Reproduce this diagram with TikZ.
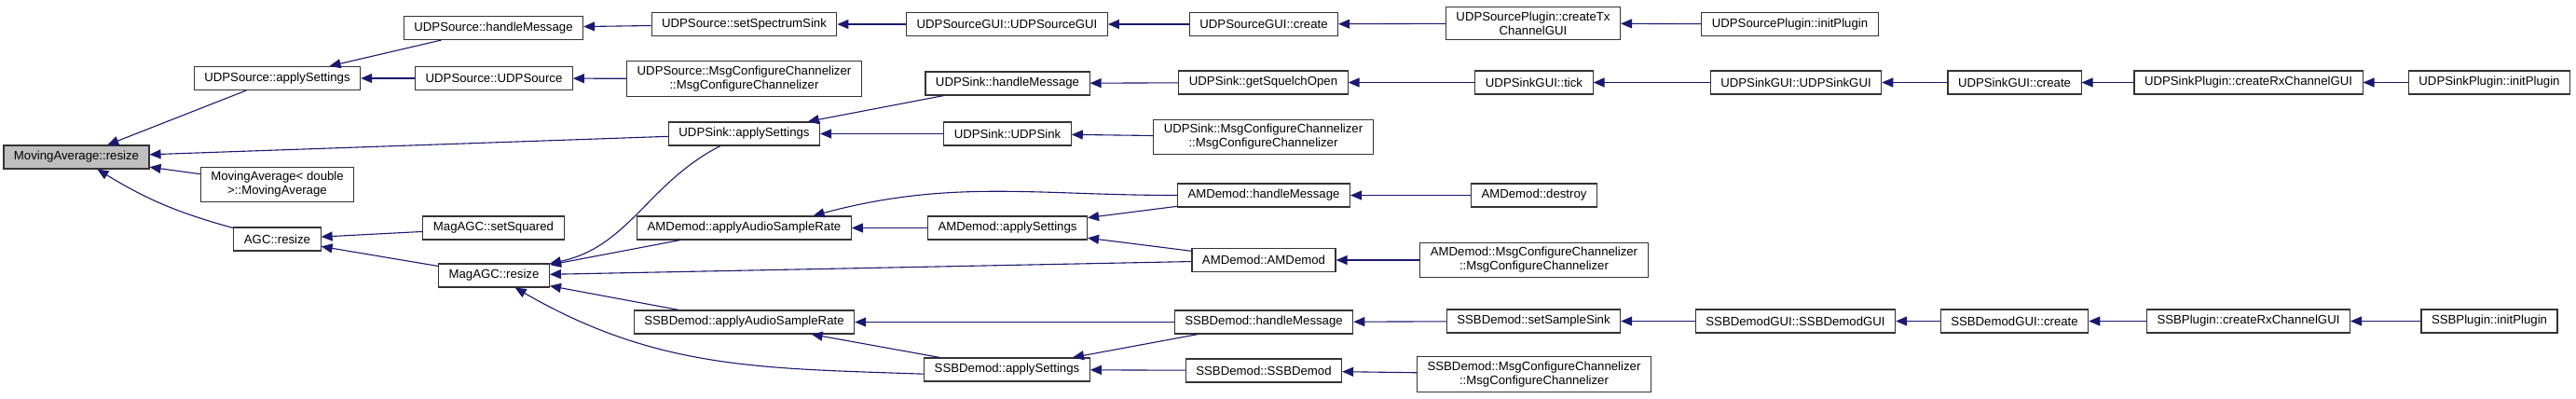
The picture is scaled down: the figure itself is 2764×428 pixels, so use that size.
\documentclass[tikz,border=0pt]{standalone}
\usepackage{fontspec}
\setmainfont{Liberation Sans}
\usetikzlibrary{arrows.meta}
\definecolor{callblue}{RGB}{25,25,112}
\tikzset{
  fn/.style={rectangle, draw=black!80, line width=1.1pt, fill=white, minimum height=25pt, inner xsep=11pt, inner ysep=5pt, align=center, font=\fontsize{13.2}{15}\selectfont},
  root/.style={fn, fill=black!25},
  callarrow/.style={-{Triangle[length=12pt, width=10pt]}, line width=1.1pt, draw=callblue}
}
\begin{document}
\begin{tikzpicture}[x=1pt, y=-1pt]
  \useasboundingbox[fill=white] (0,0) rectangle (2764,428);
  % rank 0 and 1
  \node[root] (ma_resize) at (82,168.5) {MovingAverage::resize};
  \node[fn] (usrc_apply) at (297.5,84) {UDPSource::applySettings};
  \node[fn] (ma_ctor) at (297.5,198) {MovingAverage< double\\>::MovingAverage};
  \node[fn] (agc_resize) at (297.5,256.5) {AGC::resize};
  % rank 2
  \node[fn] (usrc_handle) at (529.5,30) {UDPSource::handleMessage};
  \node[fn] (usrc_ctor) at (530,84) {UDPSource::UDPSource};
  \node[fn] (magagc_setsq) at (529.5,244.5) {MagAGC::setSquared};
  \node[fn] (magagc_resize) at (530,295.5) {MagAGC::resize};
  % rank 3
  \node[fn] (usrc_setspec) at (798.5,26) {UDPSource::setSpectrumSink};
  \node[fn] (usrc_msgcfg) at (798.5,84.5) {UDPSource::MsgConfigureChannelizer\\::MsgConfigureChannelizer};
  \node[fn] (usink_apply) at (798.5,143.5) {UDPSink::applySettings};
  \node[fn] (am_audio) at (798.5,244.5) {AMDemod::applyAudioSampleRate};
  \node[fn] (ssb_audio) at (798.5,345.5) {SSBDemod::applyAudioSampleRate};
  % rank 4
  \node[fn] (usrcgui_ctor) at (1080.5,26) {UDPSourceGUI::UDPSourceGUI};
  \node[fn] (usink_handle) at (1081,89.5) {UDPSink::handleMessage};
  \node[fn] (usink_ctor) at (1081,143.5) {UDPSink::UDPSink};
  \node[fn] (am_apply) at (1081,244.5) {AMDemod::applySettings};
  \node[fn] (ssb_apply) at (1080.5,396.5) {SSBDemod::applySettings};
  % rank 5
  \node[fn] (usrcgui_create) at (1356,26) {UDPSourceGUI::create};
  \node[fn] (usink_squelch) at (1355.5,88.5) {UDPSink::getSquelchOpen};
  \node[fn] (usink_msgcfg) at (1355.5,147) {UDPSink::MsgConfigureChannelizer\\::MsgConfigureChannelizer};
  \node[fn] (am_handle) at (1356,209.5) {AMDemod::handleMessage};
  \node[fn] (am_ctor) at (1356,279) {AMDemod::AMDemod};
  \node[fn] (ssb_handle) at (1356,345.5) {SSBDemod::handleMessage};
  \node[fn] (ssb_ctor) at (1356,397.5) {SSBDemod::SSBDemod};
  % rank 6
  \node[fn] (usrcplug_create) at (1645,25) {UDPSourcePlugin::createTx\\ChannelGUI};
  \node[fn] (usinkgui_tick) at (1646,88.5) {UDPSinkGUI::tick};
  \node[fn] (am_destroy) at (1646,209.5) {AMDemod::destroy};
  \node[fn] (am_msgcfg) at (1646,279) {AMDemod::MsgConfigureChannelizer\\::MsgConfigureChannelizer};
  \node[fn] (ssb_setsink) at (1645.5,344.5) {SSBDemod::setSampleSink};
  \node[fn] (ssb_msgcfg) at (1646,401.5) {SSBDemod::MsgConfigureChannelizer\\::MsgConfigureChannelizer};
  % rank 7 to 10
  \node[fn] (usrcplug_init) at (1920.5,26) {UDPSourcePlugin::initPlugin};
  \node[fn] (usinkgui_ctor) at (1927,88.5) {UDPSinkGUI::UDPSinkGUI};
  \node[fn] (ssbgui_ctor) at (1926.5,344.5) {SSBDemodGUI::SSBDemodGUI};
  \node[fn] (usinkgui_create) at (2161.5,88.5) {UDPSinkGUI::create};
  \node[fn] (ssbgui_create) at (2161.5,344.5) {SSBDemodGUI::create};
  \node[fn] (usinkplug_create) at (2412.5,88.5) {UDPSinkPlugin::createRxChannelGUI};
  \node[fn] (ssbplug_create) at (2412.5,344.5) {SSBPlugin::createRxChannelGUI};
  \node[fn] (usinkplug_init) at (2671,88.5) {UDPSinkPlugin::initPlugin};
  \node[fn] (ssbplug_init) at (2671,344.5) {SSBPlugin::initPlugin};

  % callers of MovingAverage::resize
  \draw[callarrow] (usrc_apply) -- (ma_resize);
  \draw[callarrow] (usink_apply) -- (ma_resize);
  \draw[callarrow] (ma_ctor) -- (ma_resize);
  \draw[callarrow] (agc_resize) to[bend left=8] (ma_resize);
  \draw[callarrow] (magagc_setsq) -- (agc_resize);
  \draw[callarrow] (magagc_resize) -- (agc_resize);
  % UDPSource
  \draw[callarrow] (usrc_handle) -- (usrc_apply);
  \draw[callarrow] (usrc_ctor) -- (usrc_apply);
  \draw[callarrow] (usrc_setspec) -- (usrc_handle);
  \draw[callarrow] (usrc_msgcfg) -- (usrc_ctor);
  \draw[callarrow] (usrcgui_ctor) -- (usrc_setspec);
  \draw[callarrow] (usrcgui_create) -- (usrcgui_ctor);
  \draw[callarrow] (usrcplug_create) -- (usrcgui_create);
  \draw[callarrow] (usrcplug_init) -- (usrcplug_create);
  % UDPSink
  \draw[callarrow] (usink_handle) -- (usink_apply);
  \draw[callarrow] (usink_ctor) -- (usink_apply);
  \draw[callarrow] (usink_squelch) -- (usink_handle);
  \draw[callarrow] (usink_msgcfg) -- (usink_ctor);
  \draw[callarrow] (usinkgui_tick) -- (usink_squelch);
  \draw[callarrow] (usinkgui_ctor) -- (usinkgui_tick);
  \draw[callarrow] (usinkgui_create) -- (usinkgui_ctor);
  \draw[callarrow] (usinkplug_create) -- (usinkgui_create);
  \draw[callarrow] (usinkplug_init) -- (usinkplug_create);
  % callers of MagAGC::resize
  \draw[callarrow] (usink_apply) to[out=-153, in=12] (magagc_resize);
  \draw[callarrow] (am_audio) -- (magagc_resize);
  \draw[callarrow] (am_ctor) -- (magagc_resize);
  \draw[callarrow] (ssb_audio) -- (magagc_resize);
  \draw[callarrow] (ssb_apply.183) to[out=178, in=-30] (magagc_resize);
  % AMDemod
  \draw[callarrow] (am_handle.west) to[out=180, in=15] (am_audio.10);
  \draw[callarrow] (am_apply) -- (am_audio);
  \draw[callarrow] (am_handle) -- (am_apply);
  \draw[callarrow] (am_ctor) -- (am_apply);
  \draw[callarrow] (am_destroy) -- (am_handle);
  \draw[callarrow] (am_msgcfg) -- (am_ctor);
  % SSBDemod
  \draw[callarrow] (ssb_handle) -- (ssb_audio);
  \draw[callarrow] (ssb_apply) -- (ssb_audio);
  \draw[callarrow] (ssb_handle) -- (ssb_apply);
  \draw[callarrow] (ssb_ctor) -- (ssb_apply);
  \draw[callarrow] (ssb_msgcfg) -- (ssb_ctor);
  \draw[callarrow] (ssb_setsink) -- (ssb_handle);
  \draw[callarrow] (ssbgui_ctor) -- (ssb_setsink);
  \draw[callarrow] (ssbgui_create) -- (ssbgui_ctor);
  \draw[callarrow] (ssbplug_create) -- (ssbgui_create);
  \draw[callarrow] (ssbplug_init) -- (ssbplug_create);
\end{tikzpicture}
\end{document}
